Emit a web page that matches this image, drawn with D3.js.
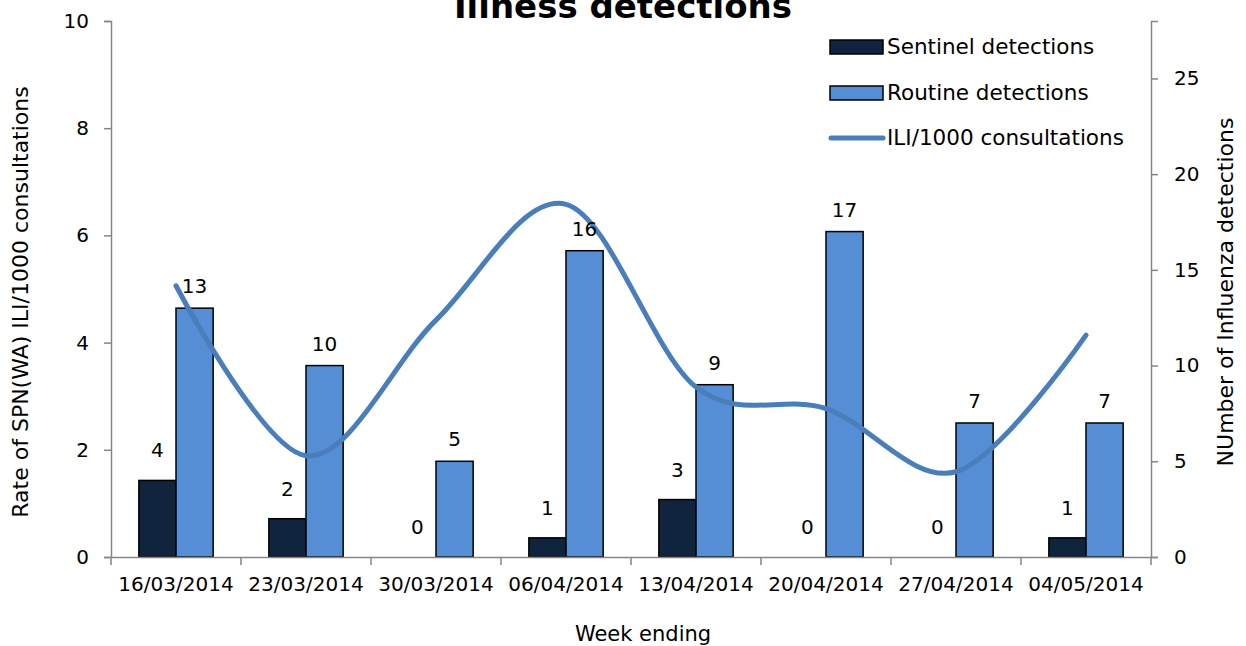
<!DOCTYPE html>
<html lang="en">
<head>
    <meta charset="UTF-8">
    <title>Illness detections</title>
    <script src="https://d3js.org/d3.v7.min.js"></script>
    <style>
        body { margin: 0; background: #fff; }
        text { font-family: "DejaVu Sans", sans-serif; fill: #000; }
    </style>
</head>
<body>
    <div id="chart"></div>
    <script>
        var weeks = ["16/03/2014", "23/03/2014", "30/03/2014", "06/04/2014",
                     "13/04/2014", "20/04/2014", "27/04/2014", "04/05/2014"];
        var sentinel = [4, 2, 0, 1, 3, 0, 0, 1];
        var routine = [13, 10, 5, 16, 9, 17, 7, 7];
        var iliRate = [5.06, 1.89, 4.42, 6.58, 3.17, 2.77, 1.59, 4.14];
        var leftTicks = [0, 2, 4, 6, 8, 10];
        var rightTicks = [0, 5, 10, 15, 20, 25];

        var W = 1246, H = 646;
        var margin = {top: 21, right: 95, bottom: 89, left: 111};
        var width = W - margin.left - margin.right,
            height = H - margin.top - margin.bottom;

        var svg = d3.select("#chart").append("svg")
            .attr("width", W).attr("height", H);
        var g = svg.append("g")
            .attr("transform", "translate(" + margin.left + "," + margin.top + ")");

        var x = d3.scaleBand().domain(weeks).range([0, width]);
        var series = d3.scaleBand().domain(["sentinel", "routine"])
            .range([0, x.bandwidth()]).paddingOuter(0.75);
        var yL = d3.scaleLinear().domain([0, 10]).range([height, 0]);
        var yR = d3.scaleLinear().domain([0, 28]).range([height, 0]);

        var colors = {sentinel: "#10243e", routine: "#558ed5", line: "#4a7ebb"};
        var axisColor = "#868686";

        // bars (right axis)
        var rows = weeks.map(function(w, i) {
            return {week: w, sentinel: sentinel[i], routine: routine[i]};
        });
        ["sentinel", "routine"].forEach(function(key) {
            g.selectAll(".bar-" + key)
                .data(rows).enter()
                .append("rect")
                .attr("class", "bar-" + key)
                .attr("x", function(d) { return x(d.week) + series(key); })
                .attr("width", series.bandwidth())
                .attr("y", function(d) { return yR(d[key]); })
                .attr("height", function(d) { return height - yR(d[key]); })
                .attr("fill", colors[key])
                .attr("stroke", function(d) { return d[key] > 0 ? "#000" : "none"; })
                .attr("stroke-width", 1.5);
        });

        // axes
        var axL = g.append("g").call(d3.axisLeft(yL).tickValues(leftTicks).tickSizeOuter(0).tickSize(7).tickPadding(15));
        var axR = g.append("g").attr("transform", "translate(" + width + ",0)")
            .call(d3.axisRight(yR).tickValues(rightTicks).tickSizeOuter(0).tickSize(7).tickPadding(16));
        var axB = g.append("g").attr("transform", "translate(0," + height + ")")
            .call(d3.axisBottom(x).tickSize(0).tickPadding(20));
        axB.selectAll(".tick text").attr("dy", "0.71em");

        // ticks between categories
        g.selectAll(".xtick")
            .data(d3.range(weeks.length + 1)).enter()
            .append("line")
            .attr("x1", function(i) { return i * x.step(); })
            .attr("x2", function(i) { return i * x.step(); })
            .attr("y1", height).attr("y2", height + 8)
            .attr("stroke", axisColor).attr("stroke-width", 1.5);

        [axL, axR, axB].forEach(function(a) {
            a.select(".domain").attr("stroke", axisColor).attr("stroke-width", 1.5);
            a.selectAll(".tick line").attr("stroke", axisColor).attr("stroke-width", 1.5);
            a.selectAll(".tick text").style("font-size", "20px")
                .style("font-family", "DejaVu Sans").attr("fill", "#000");
        });

        // ILI line (left axis), smoothed like Excel
        var line = d3.line()
            .x(function(d, i) { return x(weeks[i]) + x.bandwidth() / 2; })
            .y(function(d) { return yL(d); })
            .curve(d3.curveCardinal.tension(0));
        g.append("path")
            .datum(iliRate)
            .attr("d", line)
            .attr("fill", "none")
            .attr("stroke", colors.line)
            .attr("stroke-width", 5)
            .attr("stroke-linecap", "round");

        // data labels
        g.selectAll(".lab-s").data(rows).enter().append("text")
            .attr("x", function(d) { return x(d.week) + series("sentinel") + series.bandwidth() / 2; })
            .attr("y", function(d) { return yR(d.sentinel) - 23; })
            .attr("text-anchor", "middle").style("font-size", "20px")
            .text(function(d) { return d.sentinel; });
        g.selectAll(".lab-r").data(rows).enter().append("text")
            .attr("x", function(d) { return x(d.week) + series("routine") + series.bandwidth() / 2; })
            .attr("y", function(d) { return yR(d.routine) - 15; })
            .attr("text-anchor", "middle").style("font-size", "20px")
            .text(function(d) { return d.routine; });

        // titles
        svg.append("text")
            .attr("x", 623).attr("y", 18)
            .attr("text-anchor", "middle")
            .style("font-size", "34px").style("font-weight", "bold")
            .text("Illness detections");
        svg.append("text")
            .attr("x", 643).attr("y", 641)
            .attr("text-anchor", "middle").style("font-size", "21px")
            .text("Week ending");
        svg.append("text")
            .attr("transform", "translate(28,302) rotate(-90)")
            .attr("text-anchor", "middle").style("font-size", "22px")
            .text("Rate of SPN(WA) ILI/1000 consultations");
        svg.append("text")
            .attr("transform", "translate(1233,292) rotate(-90)")
            .attr("text-anchor", "middle").style("font-size", "22px")
            .text("NUmber of Influenza detections");

        // legend
        var legend = svg.append("g").attr("transform", "translate(830,0)");
        var items = [
            {label: "Sentinel detections", type: "rect", color: colors.sentinel, y: 47},
            {label: "Routine detections", type: "rect", color: colors.routine, y: 93},
            {label: "ILI/1000 consultations", type: "line", color: colors.line, y: 138}
        ];
        items.forEach(function(it) {
            if (it.type === "rect") {
                legend.append("rect")
                    .attr("x", 0).attr("y", it.y - 7).attr("width", 53).attr("height", 14)
                    .attr("fill", it.color).attr("stroke", "#000").attr("stroke-width", 1.5);
            } else {
                legend.append("line")
                    .attr("x1", 1).attr("x2", 53).attr("y1", it.y).attr("y2", it.y)
                    .attr("stroke", it.color).attr("stroke-width", 5).attr("stroke-linecap", "round");
            }
            legend.append("text")
                .attr("x", 57).attr("y", it.y + 7)
                .style("font-size", "21.5px")
                .text(it.label);
        });
    </script>
</body>
</html>
